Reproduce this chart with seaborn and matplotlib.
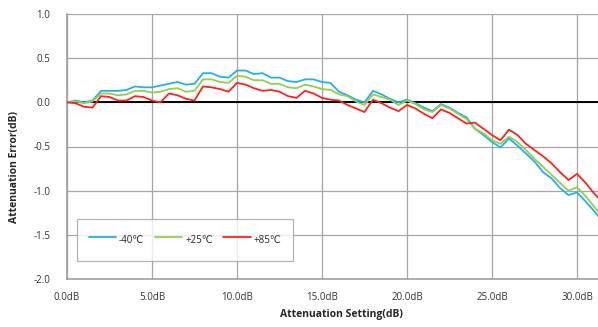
import numpy as np
import pandas as pd
import matplotlib
matplotlib.use("Agg")
import matplotlib.pyplot as plt
import seaborn as sns

# attenuation settings, 0.5 dB steps
setting_db = np.arange(0, 32, 0.5)

err_m40 = [0.00, 0.02, 0.00, 0.02, 0.13, 0.13, 0.13, 0.14, 0.18, 0.17,
           0.17, 0.19, 0.21, 0.23, 0.20, 0.21, 0.33, 0.33, 0.29, 0.28,
           0.36, 0.36, 0.32, 0.33, 0.28, 0.28, 0.24, 0.23, 0.26, 0.26,
           0.23, 0.22, 0.12, 0.08, 0.03, 0.00, 0.13, 0.09, 0.04, 0.00,
           0.03, -0.01, -0.06, -0.10, -0.02, -0.06, -0.12, -0.17, -0.30, -0.37,
           -0.45, -0.51, -0.41, -0.49, -0.58, -0.67, -0.79, -0.86, -0.97, -1.05,
           -1.02, -1.12, -1.23, -1.35]
err_p25 = [0.00, 0.01, -0.01, 0.01, 0.10, 0.10, 0.08, 0.09, 0.13, 0.13,
           0.11, 0.12, 0.15, 0.16, 0.12, 0.13, 0.26, 0.26, 0.23, 0.22,
           0.30, 0.29, 0.25, 0.25, 0.21, 0.21, 0.17, 0.16, 0.20, 0.18,
           0.15, 0.14, 0.09, 0.07, 0.01, -0.03, 0.09, 0.06, 0.03, -0.03,
           0.02, -0.02, -0.08, -0.11, -0.03, -0.07, -0.13, -0.19, -0.30, -0.35,
           -0.43, -0.47, -0.39, -0.45, -0.54, -0.64, -0.73, -0.82, -0.91, -1.00,
           -0.96, -1.06, -1.18, -1.30]
err_p85 = [0.00, -0.01, -0.05, -0.06, 0.07, 0.06, 0.02, 0.02, 0.07, 0.06,
           0.02, 0.00, 0.10, 0.08, 0.04, 0.02, 0.18, 0.17, 0.15, 0.12,
           0.22, 0.20, 0.16, 0.13, 0.14, 0.12, 0.07, 0.05, 0.13, 0.10,
           0.05, 0.03, 0.02, -0.03, -0.07, -0.11, 0.03, -0.01, -0.06, -0.10,
           -0.03, -0.07, -0.13, -0.18, -0.08, -0.12, -0.18, -0.24, -0.23, -0.30,
           -0.37, -0.43, -0.31, -0.37, -0.47, -0.54, -0.61, -0.69, -0.79, -0.88,
           -0.81, -0.91, -1.03, -1.13]

series_names = ["-40\u2103", "+25\u2103", "+85\u2103"]
series_colors = ["#22b1e8", "#92d050", "#ff2121"]
x_ticks = [0, 5, 10, 15, 20, 25, 30]
x_tick_labels = ["0.0dB", "5.0dB", "10.0dB", "15.0dB", "20.0dB", "25.0dB", "30.0dB"]
y_ticks = [1.0, 0.5, 0.0, -0.5, -1.0, -1.5, -2.0]

df = pd.DataFrame({
    "setting": np.tile(setting_db, 3),
    "error": err_m40 + err_p25 + err_p85,
    "temp": np.repeat(series_names, len(setting_db)),
})

sns.set_theme(style="white")
plt.rcParams["font.family"] = ["Open Sans", "DejaVu Sans"]

W, H = 598, 327
fig = plt.figure(figsize=(W / 100, H / 100), dpi=100)
ax = fig.add_axes([67 / W, (H - 279) / H, (W - 67) / W, (279 - 14) / H])

ax.set_xlim(0, (W - 67) / 17.0)
ax.set_ylim(-2.0, 1.0)
ax.set_xticks(x_ticks)
ax.set_yticks(y_ticks)
ax.grid(True, color="#a6a6a6", linewidth=0.9)
ax.set_axisbelow(True)
ax.axhline(0, color="black", linewidth=1.4, zorder=1.5)

sns.lineplot(data=df, x="setting", y="error", hue="temp",
             palette=dict(zip(series_names, series_colors)),
             linewidth=1.3, ax=ax, legend=True, zorder=3)

ax.set_xticklabels(x_tick_labels)
ax.set_yticklabels([f"{v:.1f}" for v in y_ticks])
ax.tick_params(axis="both", labelsize=7, colors="#333333", length=0)
ax.tick_params(axis="x", pad=9.5)
ax.tick_params(axis="y", pad=12)
ax.set_xlabel("Attenuation Setting(dB)", fontsize=7.5, fontweight="bold", va="center")
ax.set_ylabel("Attenuation Error(dB)", fontsize=7.5, fontweight="bold", va="center")
ax.xaxis.set_label_coords((341 - 67) / (W - 67), (279 - 314) / (279 - 14))
ax.yaxis.set_label_coords((15 - 67) / (W - 67), (279 - 167) / (279 - 14))

for side in ["top", "right"]:
    ax.spines[side].set_visible(False)
for side in ["left", "bottom"]:
    ax.spines[side].set_color("#a0a0a0")
    ax.spines[side].set_linewidth(1.2)

handles, labels = ax.get_legend_handles_labels()
leg = ax.legend(handles, labels, ncol=3, loc="lower left",
                bbox_to_anchor=(10 / (W - 67), 18 / (279 - 14)),
                fontsize=7, frameon=True, fancybox=False,
                handlelength=2.8, handleheight=2.5, columnspacing=1.1,
                handletextpad=0.3, borderpad=1.2, borderaxespad=0)
leg.get_frame().set_edgecolor("#a0a0a0")
leg.get_frame().set_linewidth(0.9)

fig.savefig("out.png", dpi=100)
